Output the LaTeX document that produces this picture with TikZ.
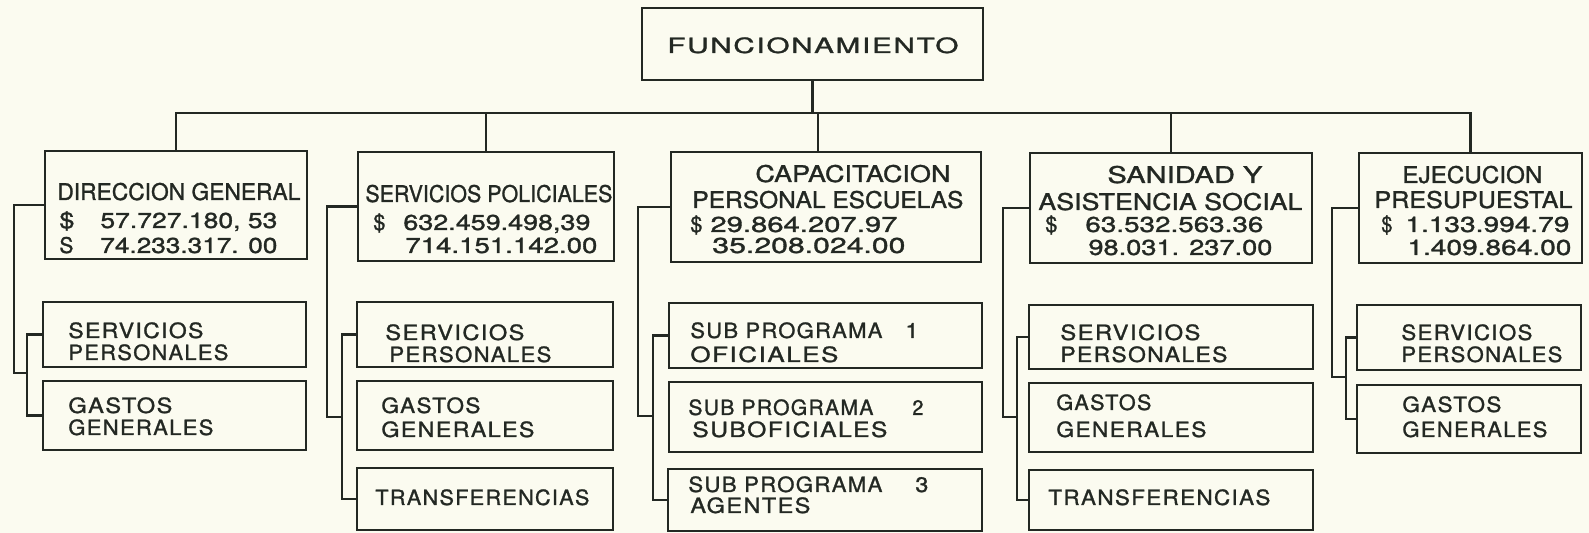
\documentclass[tikz,border=0pt]{standalone}
\usepackage{fontspec}
\setmainfont{TeX Gyre Heros}
\newfontfamily\lett{TeX Gyre Heros}[FakeBold=1.2]
\usepackage{graphicx}
\definecolor{bgc}{RGB}{251,251,240}
\definecolor{ink}{RGB}{35,40,35}
\newdimen\upx \upx=0.5pt
\tikzset{
 bx/.style={draw=ink, line width=1.3pt, inner sep=0pt, outer sep=0pt, anchor=north west},
 ln/.style={draw=ink, line width=1.2pt, line cap=rect},
 txt/.style={anchor=base west, inner sep=0pt, text=ink, font=\lett\fontsize{11.5}{12}\selectfont},
 sml/.style={txt, font=\lett\fontsize{10.5}{11}\selectfont\addfontfeatures{LetterSpace=6}},
 num/.style={txt, font=\lett\fontsize{10.8}{11}\selectfont},
}
\newcommand\Bx[5]{\node[bx, minimum width={(#4-#2)*0.5pt}, minimum height={(#5-#3)*0.5pt}] (#1) at (#2,#3) {};}
\newcommand\Tx[6][txt]{\node[#1] (#2) at (#3,#4) {\resizebox{#5\upx}{\height}{#6}};}
\begin{document}
\begin{tikzpicture}[x=0.5pt,y=-0.5pt]
\useasboundingbox (0,0) rectangle (1589,533);
\fill[bgc] (0,0) rectangle (1589,533);
% top
\Bx{top}{642}{8}{983}{80}
\Tx[sml]{tF}{667}{53}{291}{FUNCIONAMIENTO}
% level 1 boxes
\Bx{dg}{45}{151}{307}{259}
\Tx{dg1}{57}{200}{243}{DIRECCION GENERAL}
\Tx[num]{dg2s}{59}{228}{15}{\$}
\Tx[num]{dg2}{100}{228}{177}{57.727.180, 53}
\Tx[num]{dg3s}{59}{253}{14}{S}
\Tx[num]{dg3}{100}{253}{177}{74.233.317. 00}
\Bx{sp}{358}{152}{614}{261}
\Tx{sp1}{365}{202}{247}{SERVICIOS POLICIALES}
\Tx[num]{sp2s}{373}{230}{12}{\$}
\Tx[num]{sp2}{403}{230}{187}{632.459.498,39}
\Tx[num]{sp3}{405}{253}{192}{714.151.142.00}
\Bx{cap}{671}{152}{981}{262}
\Tx{cap1}{755}{182}{195}{CAPACITACION}
\Tx{cap2}{692}{208}{271}{PERSONAL ESCUELAS}
\Tx[num]{cap3s}{690}{232}{12}{\$}
\Tx[num]{cap3}{710}{232}{187}{29.864.207.97}
\Tx[num]{cap4}{712}{253}{193}{35.208.024.00}
\Bx{san}{1030}{153}{1312}{263}
\Tx{san1}{1107}{183}{155}{SANIDAD Y}
\Tx{san2}{1038}{210}{264}{ASISTENCIA SOCIAL}
\Tx[num]{san3s}{1045}{232}{12}{\$}
\Tx[num]{san3}{1085}{232}{178}{63.532.563.36}
\Tx[num]{san4}{1088}{255}{184}{98.031. 237.00}
\Bx{ep}{1359}{153}{1582}{263}
\Tx{ep1}{1402}{183}{140}{EJECUCION}
\Tx{ep2}{1374}{208}{198}{PRESUPUESTAL}
\Tx[num]{ep3s}{1381}{232}{11}{\$}
\Tx[num]{ep3}{1405}{232}{164}{1.133.994.79}
\Tx[num]{ep4}{1407}{255}{164}{1.409.864.00}
% children col 1
\Bx{a1}{43}{302}{306}{367}
\Bx{a2}{43}{381}{306}{450}
\Tx[sml]{a1t1}{68}{338}{135}{SERVICIOS}
\Tx[sml]{a1t2}{68}{360}{160}{PERSONALES}
\Tx[sml]{a2t1}{68}{413}{104}{GASTOS}
\Tx[sml]{a2t2}{68}{435}{145}{GENERALES}
% col 2
\Bx{b1}{357}{302}{613}{367}
\Bx{b2}{357}{381}{613}{450}
\Bx{b3}{357}{468}{613}{530}
\Tx[sml]{b1t1}{385}{340}{139}{SERVICIOS}
\Tx[sml]{b1t2}{389}{362}{162}{PERSONALES}
\Tx[sml]{b2t1}{381}{413}{99}{GASTOS}
\Tx[sml]{b2t2}{381}{437}{153}{GENERALES}
\Tx[sml]{b3t1}{375}{505}{214}{TRANSFERENCIAS}
% col 3
\Bx{c1}{669}{303}{982}{368}
\Bx{c2}{669}{382}{982}{452}
\Bx{c3}{668}{469}{982}{531}
\Tx[sml]{c1t1}{690}{338}{192}{SUB PROGRAMA}
\Tx[sml]{c1n}{905}{338}{13}{1}
\Tx[sml]{c1t2}{690}{362}{148}{OFICIALES}
\Tx[sml]{c2t1}{688}{415}{185}{SUB PROGRAMA}
\Tx[sml]{c2n}{912}{415}{11}{2}
\Tx[sml]{c2t2}{692}{437}{195}{SUBOFICIALES}
\Tx[sml]{c3t1}{688}{492}{194}{SUB PROGRAMA}
\Tx[sml]{c3n}{915}{492}{13}{3}
\Tx[sml]{c3t2}{690}{513}{120}{AGENTES}
% col 4
\Bx{d1}{1029}{305}{1313}{369}
\Bx{d2}{1029}{383}{1313}{452}
\Bx{d3}{1029}{470}{1313}{530}
\Tx[sml]{d1t1}{1060}{340}{140}{SERVICIOS}
\Tx[sml]{d1t2}{1060}{362}{167}{PERSONALES}
\Tx[sml]{d2t1}{1056}{410}{95}{GASTOS}
\Tx[sml]{d2t2}{1056}{437}{150}{GENERALES}
\Tx[sml]{d3t1}{1048}{505}{222}{TRANSFERENCIAS}
% col 5
\Bx{e1}{1357}{305}{1581}{370}
\Bx{e2}{1357}{385}{1581}{453}
\Tx[sml]{e1t1}{1401}{340}{131}{SERVICIOS}
\Tx[sml]{e1t2}{1401}{362}{161}{PERSONALES}
\Tx[sml]{e2t1}{1402}{412}{99}{GASTOS}
\Tx[sml]{e2t2}{1402}{437}{145}{GENERALES}
% bus
\coordinate (bus) at (0,113);
\draw[ln] (top.south) -- (top.south |- bus);
\draw[ln] (dg.north) |- (ep.north |- bus) -- (ep.north);
\draw[ln] (sp.north) -- (sp.north |- bus);
\draw[ln] ([xshift=-4pt]cap.north) -- ([xshift=-4pt]cap.north |- bus);
\draw[ln] (san.north) -- (san.north |- bus);
% column connectors
\coordinate (j1) at (14,373); \coordinate (k1) at (27,373);
\draw[ln] (dg.west) -| (j1) -- (k1);
\draw[ln] (a1.west) -| (k1) |- (a2.west);
\coordinate (j2) at (327,417); \coordinate (k2) at (342,417);
\draw[ln] (sp.west) -| (j2) -- (k2);
\draw[ln] (b1.west) -| (k2) |- (b3.west);
\coordinate (j3) at (638,416); \coordinate (k3) at (653,416);
\draw[ln] (cap.west) -| (j3) -- (k3);
\draw[ln] (c1.west) -| (k3) |- (c3.west);
\coordinate (j4) at (1003,417); \coordinate (k4) at (1017,417);
\draw[ln] (san.west) -| (j4) -- (k4);
\draw[ln] (d1.west) -| (k4) |- (d3.west);
\coordinate (j5) at (1332,377); \coordinate (k5) at (1346,377);
\draw[ln] (ep.west) -| (j5) -- (k5);
\draw[ln] (e1.west) -| (k5) |- (e2.west);
\end{tikzpicture}
\end{document}
